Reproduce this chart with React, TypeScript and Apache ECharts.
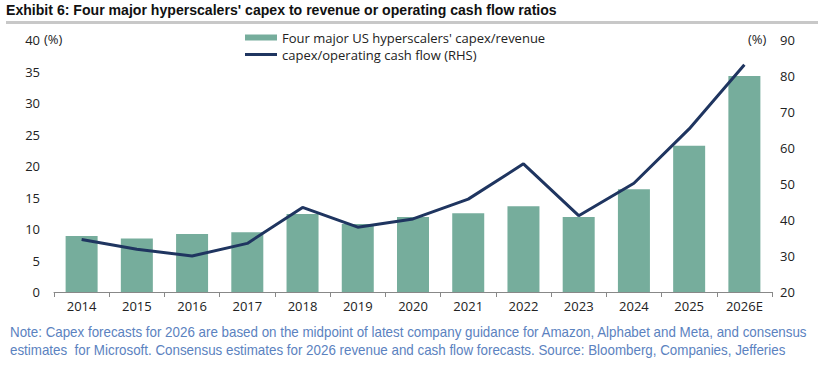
import React, { useEffect, useRef } from "react";
import * as echarts from "echarts";

const categories = ["2014", "2015", "2016", "2017", "2018", "2019", "2020", "2021", "2022", "2023", "2024", "2025", "2026E"];
const capexRevenue = [8.9, 8.5, 9.2, 9.5, 12.4, 10.8, 11.9, 12.5, 13.6, 11.9, 16.3, 23.2, 34.3];
const capexOcf = [34.6, 31.9, 30.0, 33.5, 43.5, 38.0, 40.3, 45.8, 55.6, 41.2, 50.2, 65.3, 83.1];
const leftTicks = { min: 0, max: 40, interval: 5 };
const rightTicks = { min: 20, max: 90, interval: 10 };

const title = "Exhibit 6: Four major hyperscalers' capex to revenue or operating cash flow ratios";
const note1 = "Note: Capex forecasts for 2026 are based on the midpoint of latest company guidance for Amazon, Alphabet and Meta, and consensus";
const note2 = "estimates  for Microsoft. Consensus estimates for 2026 revenue and cash flow forecasts. Source: Bloomberg, Companies, Jefferies";

const BAR = "#76ad9c";
const LINE = "#1f3560";
const FONT = "'Open Sans', 'Noto Sans', sans-serif";
const SANS = "'Liberation Sans', Arial, sans-serif";

export default function App() {
  const ref = useRef<HTMLDivElement>(null);
  useEffect(() => {
    if (!ref.current) return;
    const chart = echarts.init(ref.current, null, { renderer: "svg" });
    chart.setOption({
      animation: false,
      backgroundColor: "#ffffff",
      grid: { left: 54, right: 46, top: 40, bottom: 74 },
      legend: {
        orient: "vertical",
        left: 240,
        top: 26,
        itemWidth: 32,
        itemHeight: 6,
        itemGap: 4,
        textStyle: { fontFamily: FONT, fontSize: 13, color: "#222" },
        data: [
          { name: "Four major US hyperscalers' capex/revenue", icon: "rect" },
          { name: "capex/operating cash flow (RHS)", icon: "path://M0 0H32V3H0Z" },
        ],
      },
      xAxis: {
        type: "category",
        data: categories,
        axisLine: { lineStyle: { color: "#888", width: 1 } },
        axisTick: { show: true, alignWithLabel: false, length: 5, lineStyle: { color: "#888" } },
        axisLabel: { fontFamily: FONT, fontSize: 13, color: "#222", margin: 7 },
      },
      yAxis: [
        {
          type: "value",
          ...leftTicks,
          splitLine: { show: false },
          axisLine: { show: false },
          axisTick: { show: false },
          axisLabel: { fontFamily: FONT, fontSize: 13, color: "#222", margin: 14 },
        },
        {
          type: "value",
          ...rightTicks,
          splitLine: { show: false },
          axisLine: { show: false },
          axisTick: { show: false },
          axisLabel: { fontFamily: FONT, fontSize: 13, color: "#222", margin: 8 },
        },
      ],
      series: [
        {
          name: "Four major US hyperscalers' capex/revenue",
          type: "bar",
          data: capexRevenue,
          barWidth: 32,
          itemStyle: { color: BAR },
          yAxisIndex: 0,
        },
        {
          name: "capex/operating cash flow (RHS)",
          type: "line",
          data: capexOcf,
          yAxisIndex: 1,
          symbol: "none",
          lineStyle: { color: LINE, width: 3 },
          itemStyle: { color: LINE },
        },
      ],
      graphic: [
        {
          type: "text",
          x: 6,
          y: 2,
          scaleX: 0.94,
          style: { text: title, font: `bold 15px ${SANS}`, fill: "#111" },
        },
        {
          type: "rect",
          shape: { x: 6, y: 21, width: 812, height: 3 },
          style: { fill: "#c8c8c8" },
        },
        {
          type: "text",
          left: 44,
          top: 32,
          style: { text: "(%)", font: `13px ${FONT}`, fill: "#222" },
        },
        {
          type: "text",
          left: 748,
          top: 32,
          style: { text: "(%)", font: `13px ${FONT}`, fill: "#222" },
        },
        {
          type: "text",
          x: 10,
          y: 325,
          scaleX: 0.955,
          style: { text: note1, font: `14px ${SANS}`, fill: "#5b82c0" },
        },
        {
          type: "text",
          x: 10,
          y: 343,
          scaleX: 0.955,
          style: { text: note2, font: `14px ${SANS}`, fill: "#5b82c0" },
        },
      ],
    });
    return () => chart.dispose();
  }, []);
  return <div ref={ref} style={{ position: "fixed", left: 0, top: 0, width: 818, height: 366 }} />;
}
